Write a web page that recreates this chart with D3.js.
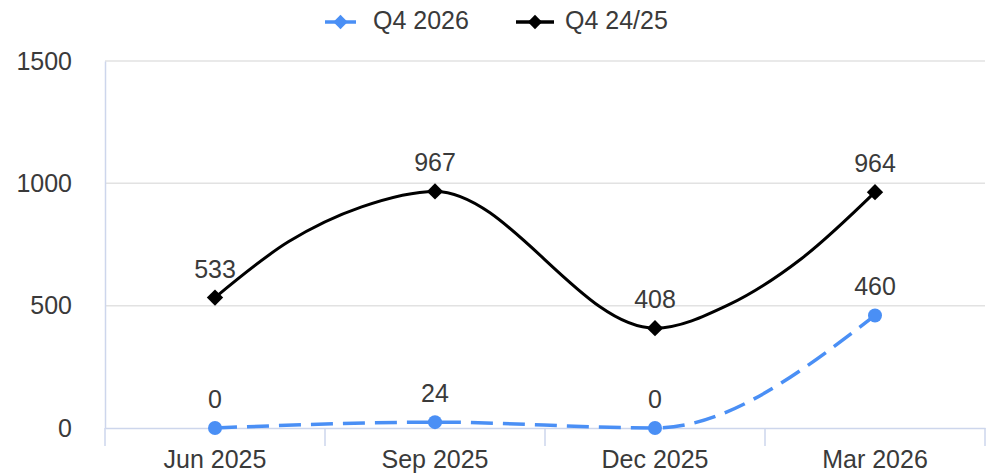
<!DOCTYPE html>
<html>
<head>
<meta charset="utf-8">
<script src="https://cdn.jsdelivr.net/npm/d3@7"></script>
<style>
  html, body { margin: 0; padding: 0; background: #fff; }
  text { font-family: "Liberation Sans", Arial, sans-serif; }
</style>
</head>
<body>
<div id="chart"></div>
<script>
// categories
const quarters = ["Jun 2025", "Sep 2025", "Dec 2025", "Mar 2026"]
const months = ["Jun 2025", "Jul 2025", "Aug 2025", "Sep 2025", "Oct 2025",
                "Nov 2025", "Dec 2025", "Jan 2026", "Feb 2026", "Mar 2026"]
const yTicks = [0, 500, 1000, 1500]

// series
const seriesNames = ["Q4 2026", "Q4 24/25"]
const q4_2026 = [0, 24, 0, 460]                    // per quarter
const q4_2425 = [533, 761, 904, 967, null, null, 408, 503, 693, 964] // per month

const width = 994
const height = 474
const margin = ({top: 61, right: 9, bottom: 46, left: 105})

const blue = "#4a8ff5"
const textColor = "#3a3a3a"
const fontSize = 25

const svg = d3.select("#chart").append("svg")
    .attr("width", width)
    .attr("height", height)
    .attr("viewBox", [0, 0, width, height])

const xBand = d3.scaleBand()
    .domain(quarters)
    .range([margin.left, width - margin.right])

const xMonth = d3.scalePoint()
    .domain(months)
    .range([xBand(quarters[0]) + xBand.bandwidth() / 2,
            xBand(quarters[3]) + xBand.bandwidth() / 2])

const y = d3.scaleLinear()
    .domain([0, 1500])
    .range([height - margin.bottom, margin.top])

// grid lines
svg.append("g")
    .selectAll("line")
    .data(yTicks.filter(d => d > 0))
    .join("line")
    .attr("x1", margin.left)
    .attr("x2", width - margin.right)
    .attr("y1", d => y(d))
    .attr("y2", d => y(d))
    .attr("stroke", "#e2e2e2")
    .attr("stroke-width", 1.5)

// y axis
const yAxis = g => g
    .attr("transform", `translate(${margin.left},0)`)
    .call(d3.axisLeft(y).tickValues(yTicks).tickFormat(d3.format("d")).tickSize(0).tickPadding(33))
    .call(g => g.select(".domain").attr("stroke", "#cdd6ec").attr("stroke-width", 1.5))
    .call(g => g.selectAll(".tick text")
        .attr("font-size", fontSize)
        .attr("fill", textColor)
        .attr("font-family", "Liberation Sans, Arial, sans-serif"))

// x axis, ticks on band boundaries
const xAxis = g => g
    .attr("transform", `translate(0,${y(0)})`)
    .call(d3.axisBottom(xBand).tickSize(0).tickPadding(22))
    .call(g => g.select(".domain").attr("stroke", "#cdd6ec").attr("stroke-width", 1.5))
    .call(g => g.selectAll(".tick text")
        .attr("font-size", fontSize)
        .attr("fill", textColor)
        .attr("font-family", "Liberation Sans, Arial, sans-serif"))
    .call(g => g.append("g")
        .selectAll("line")
        .data(quarters.map(q => xBand(q)).concat([width - margin.right]))
        .join("line")
        .attr("x1", d => d)
        .attr("x2", d => d)
        .attr("y1", 0)
        .attr("y2", 18)
        .attr("stroke", "#cdd6ec")
        .attr("stroke-width", 1.5))

svg.append("g").call(yAxis)
svg.append("g").call(xAxis)

// Q4 24/25 line (monthly, gaps skipped)
const blackPts = months.map((m, i) => ({m, v: q4_2425[i]})).filter(d => d.v != null)

const line = d3.line()
    .x(d => d.x)
    .y(d => d.y)
    .curve(d3.curveMonotoneX)

svg.append("path")
    .datum(blackPts.map(d => ({x: xMonth(d.m), y: y(d.v)})))
    .attr("fill", "none")
    .attr("stroke", "#000")
    .attr("stroke-width", 3)
    .attr("d", line)

// Q4 2026 line (quarterly)
const bluePts = quarters.map((q, i) => ({q, v: q4_2026[i]}))

svg.append("path")
    .datum(bluePts.map(d => ({x: xMonth(d.q), y: y(d.v)})))
    .attr("fill", "none")
    .attr("stroke", blue)
    .attr("stroke-width", 3.5)
    .attr("stroke-dasharray", "22 10")
    .attr("d", line)

// markers
const diamond = d3.symbol().type(d3.symbolDiamond2).size(170)
const quarterBlack = blackPts.filter(d => quarters.includes(d.m))

svg.append("g")
    .selectAll("path")
    .data(quarterBlack)
    .join("path")
    .attr("transform", d => `translate(${xMonth(d.m)},${y(d.v)})`)
    .attr("d", diamond)
    .attr("fill", "#000")

svg.append("g")
    .selectAll("circle")
    .data(bluePts)
    .join("circle")
    .attr("cx", d => xMonth(d.q))
    .attr("cy", d => y(d.v))
    .attr("r", 7)
    .attr("fill", blue)

// data labels
const labels = quarterBlack.map(d => ({x: xMonth(d.m), v: d.v}))
    .concat(bluePts.map(d => ({x: xMonth(d.q), v: d.v})))

svg.append("g")
    .selectAll("text")
    .data(labels)
    .join("text")
    .attr("x", d => d.x)
    .attr("y", d => y(d.v) - 20)
    .attr("text-anchor", "middle")
    .attr("font-size", fontSize)
    .attr("fill", textColor)
    .text(d => d.v)

// legend
const legendItems = [
    {name: seriesNames[0], color: blue, x: 325, w: 31, tx: 48},
    {name: seriesNames[1], color: "#000", x: 516, w: 38, tx: 49}
]
const lg = svg.append("g")
    .selectAll("g")
    .data(legendItems)
    .join("g")
    .attr("transform", d => `translate(${d.x},22)`)

lg.append("line")
    .attr("x1", 0)
    .attr("x2", d => d.w)
    .attr("stroke", d => d.color)
    .attr("stroke-width", 3.5)
lg.append("path")
    .attr("transform", d => `translate(${d.w / 2},0)`)
    .attr("d", d3.symbol().type(d3.symbolDiamond2).size(130))
    .attr("fill", d => d.color)
lg.append("text")
    .attr("x", d => d.tx)
    .attr("y", 6.5)
    .attr("font-size", fontSize)
    .attr("fill", textColor)
    .text(d => d.name)
</script>
</body>
</html>
